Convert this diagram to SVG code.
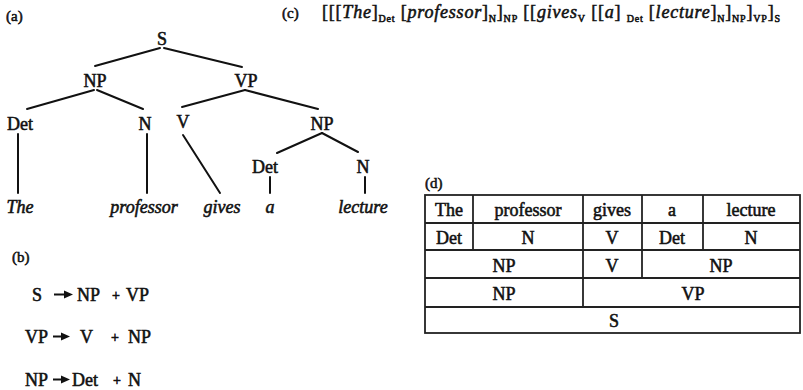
<svg xmlns="http://www.w3.org/2000/svg" width="803" height="390" viewBox="0 0 803 390">
<style>
.t{font-family:"Liberation Serif","Times New Roman",serif;font-size:18px;fill:#111;stroke:#111;stroke-width:0.55;text-anchor:middle}
.s{text-anchor:start}
.i{font-style:italic}
.lab{font-size:15px;text-anchor:start}
.sub{font-size:10px}
.pl{font-size:14px}
.e{stroke:#111;stroke-width:2;fill:none;stroke-linecap:round}
.ar{stroke:#111;stroke-width:2;fill:none}
.ah{fill:#111}
.g{stroke:#222;stroke-width:1.8;fill:none}
</style>
<rect width="803" height="390" fill="#fff"/>

<!-- labels -->
<text class="t lab" x="6" y="21">(a)</text>
<text class="t lab" x="12" y="262">(b)</text>
<text class="t lab" x="282" y="18">(c)</text>
<text class="t lab" x="425" y="188">(d)</text>

<!-- (a) tree connectors -->
<g id="connectors">
<line class="e" x1="160" y1="48" x2="95" y2="66"/>
<line class="e" x1="164" y1="48" x2="242" y2="67"/>
<line class="e" x1="94" y1="90" x2="27" y2="109"/>
<line class="e" x1="97" y1="90" x2="143" y2="109"/>
<line class="e" x1="245" y1="90" x2="182" y2="107"/>
<line class="e" x1="245" y1="90" x2="318" y2="109"/>
<line class="e" x1="322" y1="133" x2="277" y2="153"/>
<line class="e" x1="322" y1="133" x2="358" y2="152"/>
<line class="e" x1="18" y1="134" x2="18" y2="193"/>
<line class="e" x1="147" y1="134" x2="147" y2="193"/>
<line class="e" x1="183" y1="135" x2="220" y2="193"/>
<line class="e" x1="270" y1="177" x2="270" y2="193"/>
<line class="e" x1="365" y1="177" x2="365" y2="193"/>
</g>

<g id="n-S"><text class="t" x="162" y="45">S</text></g>
<g id="n-NP1"><text class="t" x="95" y="87">NP</text></g>
<g id="n-VP"><text class="t" x="246" y="87">VP</text></g>
<g id="n-Det1"><text class="t" x="20" y="130">Det</text></g>
<g id="n-N1"><text class="t" x="145" y="130">N</text></g>
<g id="n-V"><text class="t" x="183" y="128">V</text></g>
<g id="n-NP2"><text class="t" x="322" y="130">NP</text></g>
<g id="n-Det2"><text class="t" x="265" y="173">Det</text></g>
<g id="n-N2"><text class="t" x="363" y="173">N</text></g>
<g id="w-The"><text class="t i" x="20" y="213">The</text></g>
<g id="w-professor"><text class="t i" x="144" y="213">professor</text></g>
<g id="w-gives"><text class="t i" x="222" y="213">gives</text></g>
<g id="w-a"><text class="t i" x="270" y="213">a</text></g>
<g id="w-lecture"><text class="t i" x="363" y="213">lecture</text></g>

<!-- (b) rules -->
<g id="rules">
<text class="t s" x="32" y="301">S</text>
<path class="ar" d="M54 294.5H66"/><polygon class="ah" points="73,294.5 64,290.5 64,298.5"/>
<text class="t s" x="77" y="301">NP</text>
<text class="t s pl" x="112" y="300">+</text>
<text class="t s" x="126" y="301">VP</text>

<text class="t s" x="25" y="343">VP</text>
<path class="ar" d="M53 336.5H63"/><polygon class="ah" points="70,336.5 61,332.5 61,340.5"/>
<text class="t s" x="80" y="343">V</text>
<text class="t s pl" x="111" y="342">+</text>
<text class="t s" x="128" y="343">NP</text>

<text class="t s" x="25" y="386">NP</text>
<path class="ar" d="M53 379.5H63"/><polygon class="ah" points="70,379.5 61,375.5 61,383.5"/>
<text class="t s" x="72" y="386">Det</text>
<text class="t s pl" x="113" y="385">+</text>
<text class="t s" x="128" y="386">N</text>
</g>

<!-- (c) bracketing -->
<g id="bracketing">
<text class="t s" x="322" y="18" font-size="16" textLength="458" lengthAdjust="spacing">[[[<tspan class="i">The</tspan>]<tspan class="sub" dy="4">Det</tspan><tspan dy="-4"> [</tspan><tspan class="i">professor</tspan>]<tspan class="sub" dy="4">N</tspan><tspan dy="-4">]</tspan><tspan class="sub" dy="4">NP</tspan><tspan dy="-4"> [[</tspan><tspan class="i">gives</tspan><tspan class="sub" dy="4">V</tspan><tspan dy="-4"> [[</tspan><tspan class="i">a</tspan>] <tspan class="sub" dy="4">Det</tspan><tspan dy="-4"> [</tspan><tspan class="i">lecture</tspan>]<tspan class="sub" dy="4">N</tspan><tspan dy="-4">]</tspan><tspan class="sub" dy="4">NP</tspan><tspan dy="-4">]</tspan><tspan class="sub" dy="4">VP</tspan><tspan dy="-4">]</tspan><tspan class="sub" dy="4">S</tspan></text>
</g>

<!-- (d) table -->
<g id="table">
<rect class="g" x="425" y="195" width="375" height="138"/>
<line class="g" x1="425" y1="223" x2="800" y2="223"/>
<line class="g" x1="425" y1="250" x2="800" y2="250"/>
<line class="g" x1="425" y1="278" x2="800" y2="278"/>
<line class="g" x1="425" y1="307" x2="800" y2="307"/>
<line class="g" x1="473" y1="195" x2="473" y2="250"/>
<line class="g" x1="703" y1="195" x2="703" y2="250"/>
<line class="g" x1="642" y1="195" x2="642" y2="278"/>
<line class="g" x1="583" y1="195" x2="583" y2="307"/>

<text class="t" x="449" y="216" font-size="17">The</text>
<text class="t" x="528" y="216" font-size="17">professor</text>
<text class="t" x="612" y="216" font-size="17">gives</text>
<text class="t" x="672" y="216" font-size="17">a</text>
<text class="t" x="751" y="216" font-size="17">lecture</text>

<text class="t" x="449" y="244" font-size="17">Det</text>
<text class="t" x="528" y="244" font-size="17">N</text>
<text class="t" x="612" y="244" font-size="17">V</text>
<text class="t" x="672" y="244" font-size="17">Det</text>
<text class="t" x="751" y="244" font-size="17">N</text>

<text class="t" x="504" y="272" font-size="17">NP</text>
<text class="t" x="612" y="272" font-size="17">V</text>
<text class="t" x="721" y="272" font-size="17">NP</text>

<text class="t" x="504" y="300" font-size="17">NP</text>
<text class="t" x="693" y="300" font-size="17">VP</text>

<text class="t" x="614" y="327" font-size="17">S</text>
</g>
</svg>
